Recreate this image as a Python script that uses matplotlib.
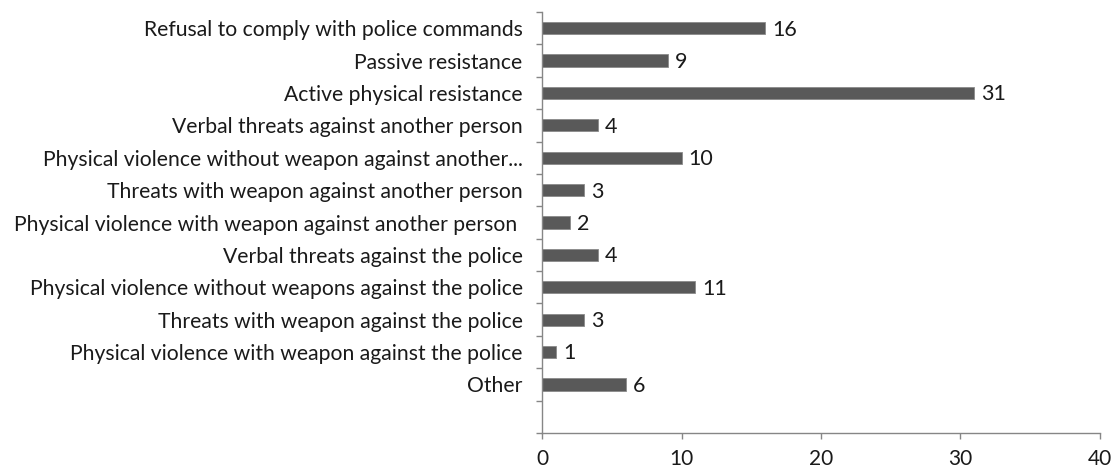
import numpy as np
import matplotlib.pyplot as plt
from matplotlib.ticker import FixedLocator, NullFormatter

# categorias (de arriba hacia abajo), la ultima fila va vacia como en el original
categorias = [
    "Refusal to comply with police commands",
    "Passive resistance",
    "Active physical resistance",
    "Verbal threats against another person",
    "Physical violence without weapon against another...",
    "Threats with weapon against another person",
    "Physical violence with weapon against another person ",
    "Verbal threats against the police",
    "Physical violence without weapons against the police",
    "Threats with weapon against the police",
    "Physical violence with weapon against the police",
    "Other",
    "",
]
valores = [16, 9, 31, 4, 10, 3, 2, 4, 11, 3, 1, 6, None]
xticks = [0, 10, 20, 30, 40]

plt.rcParams['font.family'] = ['Lato', 'DejaVu Sans']

fig = plt.figure(figsize=(11.2, 4.72), dpi=100)
ax = fig.add_axes([0.484, 0.0826, 0.498, 0.8920])

n = len(categorias)
pos = np.arange(n)
for p, v in zip(pos, valores):
    if v is None:
        continue
    ax.barh(p, v, height=0.38, color="#595959", edgecolor="#8a8a8a", linewidth=0.6)
    ax.annotate(str(v), (v, p), xytext=(5, -1), textcoords="offset points",
                va="center", ha="left", fontsize=15.5, color="#1a1a1a")

ax.set_ylim(n - 0.5, -0.5)
ax.set_xlim(0, 40)
ax.set_xticks(xticks)
ax.tick_params(axis="x", labelsize=15, colors="#868686", labelcolor="#1a1a1a",
               length=4.5, width=1, pad=7)

# etiquetas centradas, marcas en los limites de cada fila
ax.set_yticks(pos)
ax.set_yticklabels(categorias)
ax.tick_params(axis="y", which="major", length=0, labelsize=15.2,
               labelcolor="#1a1a1a", pad=14)
ax.yaxis.set_minor_locator(FixedLocator(np.arange(n + 1) - 0.5))
ax.yaxis.set_minor_formatter(NullFormatter())
ax.tick_params(axis="y", which="minor", length=4.5, width=1, color="#868686")

for s in ["top", "right"]:
    ax.spines[s].set_visible(False)
for s in ["left", "bottom"]:
    ax.spines[s].set_color("#868686")
    ax.spines[s].set_linewidth(1)

fig.savefig("out.png", dpi=100)
